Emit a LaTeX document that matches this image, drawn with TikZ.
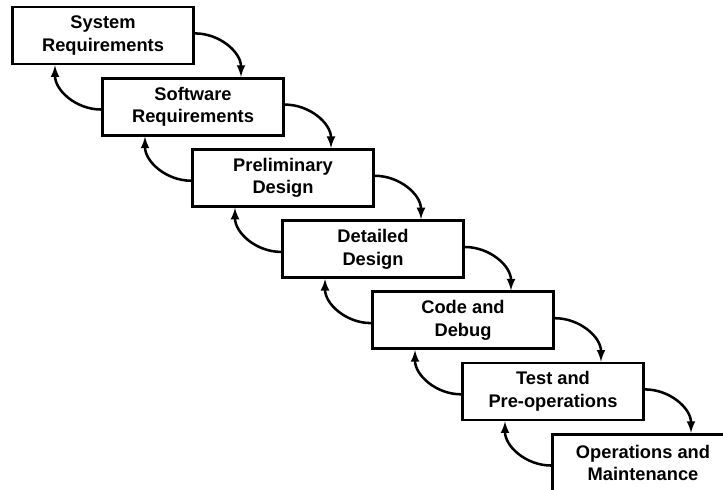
\documentclass[tikz,border=0pt]{standalone}
\usepackage{fontspec}
\setmainfont{Liberation Sans}
\usetikzlibrary{arrows}

\tikzset{phase/.style={draw,line width=2pt,minimum width=4.525cm,minimum height=1.425cm,
    align=center,inner sep=0pt,font=\bfseries\fontsize{13}{16}\selectfont}}

\begin{document}
\begin{tikzpicture}[>=latex, flow/.style={line width=1.8pt,->}]
      \clip (0,0) rectangle (18.075,-12.225);
      \foreach \i/\txt in {1/{System\\Requirements}, 2/{Software\\Requirements},
          3/{Preliminary\\Design}, 4/{Detailed\\Design}, 5/{Code and\\Debug},
          6/{Test and\\Pre-operations}, 7/{Operations and\\Maintenance}}
      {
        \node[phase] (p\i) at ({2.575+2.25*(\i-1)},{-0.8875-1.78*(\i-1)}) {\txt};
      }

      \foreach \i in {1,...,6}
      {
        \pgfmathtruncatemacro{\j}{\i+1}
        \draw[flow] ([yshift=1.5pt]p\i.east) to[out=0,in=90] ([xshift=1.2cm]p\j.north);
        \draw[flow] ([yshift=-2pt]p\j.west) to[out=180,in=-90] ([xshift=-1.2cm]p\i.south);
      }
    \end{tikzpicture}
\end{document}
